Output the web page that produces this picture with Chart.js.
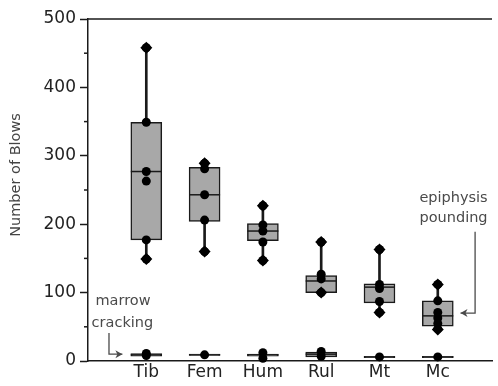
<!DOCTYPE html>
<html>
<head>
<meta charset="utf-8">
<script src="https://cdn.jsdelivr.net/npm/chart.js@4/dist/chart.umd.min.js"></script>
<style>
  html, body { margin: 0; padding: 0; background: #fff; }
  #wrap { width: 498px; height: 386px; }
</style>
</head>
<body>
<div id="wrap"><canvas id="blowChart"></canvas></div>
<script>
// bone elements
const categories = ["Tib", "Fem", "Hum", "Rul", "Mt", "Mc"];

// epiphysis pounding (upper boxes)
const poundMin    = [149, 160, 147, 100,  71,  46];
const poundQ1     = [177, 204, 176, 100,  85,  51];
const poundMedian = [277, 243, 190, 117, 108,  66];
const poundQ3     = [349, 283, 201, 125, 113,  88];
const poundMax    = [458, 289, 227, 174, 163, 112];
const poundPoints = [
    [458, 349, 277, 263, 177, 149],
    [289, 281, 243, 206, 160],
    [227, 199, 190, 174, 147],
    [174, 127, 120, 100],
    [163, 112, 106, 87, 71],
    [112, 88, 71, 63, 55, 47]
];

// marrow cracking (lower boxes)
const crackMin    = [7, 8,  4,  6, 5, 5];
const crackQ1     = [7, 8,  7,  6, 5, 5];
const crackMedian = [9, 9,  9, 10, 6, 6];
const crackQ3     = [11, 10, 10, 13, 7, 7];
const crackMax    = [11, 10, 12, 14, 7, 7];
const crackPoints = [[11, 8], [9], [12, 4], [14, 7], [6], [6]];

const yTicks = [0, 100, 200, 300, 400, 500];
const yMinorTicks = [50, 150, 250, 350, 450];

Chart.defaults.font.family = "'DejaVu Sans', sans-serif";

const ink = "#1a1a1a";

function ranges(lo, hi) {
    return categories.map((c, i) => ({ x: i + 1, y: [lo[i], hi[i]] }));
}
function scatter(groups) {
    const out = [];
    groups.forEach((vals, i) => vals.forEach(v => out.push({ x: i + 1, y: v })));
    return out;
}

const medianByDataset = {
    "pound boxes": poundMedian,
    "crack boxes": crackMedian
};

const boxExtras = {
    id: "boxExtras",
    afterDatasetDraw(chart, args) {
        const med = medianByDataset[args.meta.label];
        if (!med) return;
        const ctx = chart.ctx;
        const y = chart.scales.y;
        ctx.save();
        ctx.strokeStyle = ink;
        ctx.lineWidth = 1.5;
        args.meta.data.forEach((bar, i) => {
            const py = y.getPixelForValue(med[i]);
            ctx.beginPath();
            ctx.moveTo(bar.x - bar.width / 2, py);
            ctx.lineTo(bar.x + bar.width / 2, py);
            ctx.stroke();
        });
        ctx.restore();
    },
    afterDraw(chart) {
        const ctx = chart.ctx;
        const x = chart.scales.x;
        const y = chart.scales.y;
        const area = chart.chartArea;
        ctx.save();
        ctx.strokeStyle = ink;
        ctx.lineWidth = 1.5;
        // top frame line
        ctx.beginPath();
        ctx.moveTo(area.left, area.top);
        ctx.lineTo(area.right, area.top);
        ctx.stroke();
        // minor ticks
        yMinorTicks.forEach(v => {
            const py = y.getPixelForValue(v);
            ctx.beginPath();
            ctx.moveTo(area.left - 4, py);
            ctx.lineTo(area.left, py);
            ctx.stroke();
        });

        // y axis title, sits a bit above the middle in the original
        ctx.save();
        ctx.translate(16, y.getPixelForValue(272));
        ctx.rotate(-Math.PI / 2);
        ctx.fillStyle = "#444";
        ctx.font = "14.5px 'DejaVu Sans'";
        ctx.textAlign = "center";
        ctx.textBaseline = "middle";
        ctx.fillText("Number of Blows", 0, 0);
        ctx.restore();

        // annotations
        ctx.fillStyle = "#4a4a4a";
        ctx.strokeStyle = "#4a4a4a";
        ctx.lineWidth = 1.3;
        ctx.font = "14.5px 'DejaVu Sans'";
        ctx.textAlign = "center";
        ctx.textBaseline = "middle";
        ctx.fillText("marrow", x.getPixelForValue(0.6), y.getPixelForValue(87));
        ctx.fillText("cracking", x.getPixelForValue(0.59), y.getPixelForValue(55));
        ctx.fillText("epiphysis", x.getPixelForValue(6.27), y.getPixelForValue(238));
        ctx.fillText("pounding", x.getPixelForValue(6.27), y.getPixelForValue(208));

        function arrow(x0, y0, x1, y1, x2, y2) {
            ctx.beginPath();
            ctx.moveTo(x0, y0);
            ctx.lineTo(x1, y1);
            ctx.lineTo(x2, y2);
            ctx.stroke();
            const dir = Math.sign(x2 - x1);
            ctx.beginPath();
            ctx.moveTo(x2, y2);
            ctx.lineTo(x2 - dir * 7, y2 - 4);
            ctx.lineTo(x2 - dir * 5, y2);
            ctx.lineTo(x2 - dir * 7, y2 + 4);
            ctx.closePath();
            ctx.fill();
        }
        const ax = x.getPixelForValue(0.36);
        arrow(ax, y.getPixelForValue(41), ax, y.getPixelForValue(10),
              x.getPixelForValue(0.59), y.getPixelForValue(10));
        const bx = x.getPixelForValue(6.64);
        arrow(bx, y.getPixelForValue(189), bx, y.getPixelForValue(70),
              x.getPixelForValue(6.39), y.getPixelForValue(70));
        ctx.restore();
    }
};

const caps = scatter(categories.map((c, i) => [poundMin[i], poundMax[i]]));

new Chart(document.getElementById("blowChart"), {
    type: "bar",
    data: {
        datasets: [
            {
                label: "points",
                type: "line",
                data: scatter(poundPoints).concat(scatter(crackPoints)),
                showLine: false,
                pointRadius: 4.5,
                pointBackgroundColor: "#000",
                pointBorderWidth: 0,
                clip: false,
                order: 0
            },
            {
                label: "caps",
                type: "line",
                data: caps,
                showLine: false,
                pointStyle: "rectRot",
                pointRadius: 6,
                pointBackgroundColor: "#000",
                pointBorderWidth: 0,
                clip: false,
                order: 1
            },
            {
                label: "pound boxes",
                data: ranges(poundQ1, poundQ3),
                backgroundColor: "#a8a8a8",
                borderColor: ink,
                borderWidth: 1.5,
                borderSkipped: false,
                barThickness: 31,
                grouped: false,
                order: 2
            },
            {
                label: "crack boxes",
                data: ranges(crackQ1, crackQ3),
                backgroundColor: "#a8a8a8",
                borderColor: ink,
                borderWidth: 1.5,
                borderSkipped: false,
                barThickness: 31,
                grouped: false,
                order: 2
            },
            {
                label: "pound whiskers",
                data: ranges(poundMin, poundMax),
                backgroundColor: ink,
                barThickness: 2,
                grouped: false,
                order: 3
            }
        ]
    },
    options: {
        responsive: true,
        maintainAspectRatio: false,
        animation: false,
        layout: { padding: { top: 19, right: 0, left: 0, bottom: 0 } },
        plugins: {
            legend: { display: false },
            tooltip: { enabled: false }
        },
        scales: {
            x: {
                type: "linear",
                min: 0,
                max: 6.93,
                offset: false,
                grid: { display: false, drawTicks: false },
                border: { display: true, color: ink, width: 1.5 },
                afterBuildTicks: axis => {
                    axis.ticks = categories.map((c, i) => ({ value: i + 1 }));
                },
                afterFit: axis => { axis.height = 25; },
                ticks: {
                    color: "#222",
                    padding: 1,
                    font: { size: 17 },
                    maxRotation: 0,
                    autoSkip: false,
                    callback: v => categories[v - 1]
                }
            },
            y: {
                min: 0,
                max: 500,
                afterBuildTicks: axis => {
                    axis.ticks = yTicks.map(v => ({ value: v }));
                },
                afterFit: axis => { axis.width = 88; },
                grid: {
                    drawOnChartArea: false,
                    tickLength: 8,
                    tickColor: ink,
                    tickWidth: 1.5
                },
                border: { display: true, color: ink, width: 1.5 },
                ticks: {
                    color: "#222",
                    padding: 4,
                    font: { size: 17 }
                }
            }
        }
    },
    plugins: [boxExtras]
});
</script>
</body>
</html>
